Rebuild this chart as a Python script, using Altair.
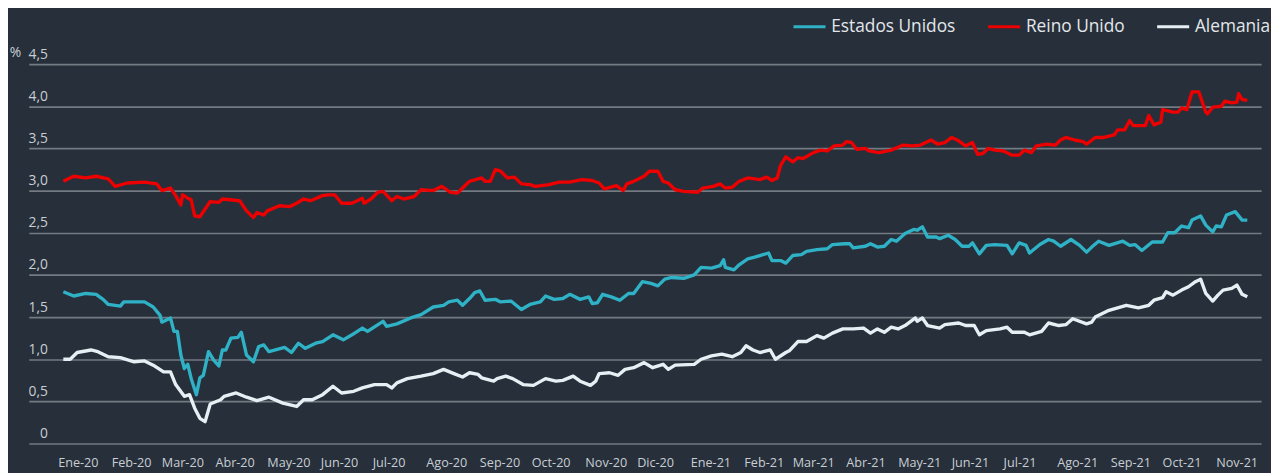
import altair as alt
import pandas as pd

# --- Reino Unido ---
fechas_ru = [
    "2020-01-02", "2020-01-08", "2020-01-15", "2020-01-21", "2020-01-28", "2020-02-01", "2020-02-08",
    "2020-02-18", "2020-02-25", "2020-02-28", "2020-03-04", "2020-03-07", "2020-03-10", "2020-03-11",
    "2020-03-14", "2020-03-16", "2020-03-18", "2020-03-21", "2020-03-27", "2020-04-01", "2020-04-03",
    "2020-04-13", "2020-04-17", "2020-04-21", "2020-04-23", "2020-04-27", "2020-04-29", "2020-05-06",
    "2020-05-12", "2020-05-16", "2020-05-20", "2020-05-24", "2020-05-31", "2020-06-03", "2020-06-07",
    "2020-06-11", "2020-06-17", "2020-06-23", "2020-06-24", "2020-06-28", "2020-07-02", "2020-07-05",
    "2020-07-10", "2020-07-13", "2020-07-17", "2020-07-23", "2020-07-27", "2020-08-03", "2020-08-08",
    "2020-08-13", "2020-08-17", "2020-08-20", "2020-08-24", "2020-08-31", "2020-09-02", "2020-09-05",
    "2020-09-08", "2020-09-11", "2020-09-15", "2020-09-19", "2020-09-23", "2020-09-28", "2020-10-01",
    "2020-10-09", "2020-10-15", "2020-10-21", "2020-10-28", "2020-11-03", "2020-11-07", "2020-11-10",
    "2020-11-17", "2020-11-21", "2020-11-23", "2020-11-27", "2020-12-03", "2020-12-06", "2020-12-11",
    "2020-12-14", "2020-12-17", "2020-12-21", "2020-12-26", "2021-01-03", "2021-01-06", "2021-01-12",
    "2021-01-16", "2021-01-19", "2021-01-23", "2021-01-27", "2021-02-01", "2021-02-08", "2021-02-12",
    "2021-02-15", "2021-02-18", "2021-02-20", "2021-02-23", "2021-02-27", "2021-03-02", "2021-03-05",
    "2021-03-11", "2021-03-15", "2021-03-19", "2021-03-23", "2021-03-28", "2021-03-30", "2021-04-02",
    "2021-04-05", "2021-04-10", "2021-04-12", "2021-04-18", "2021-04-25", "2021-05-02", "2021-05-07",
    "2021-05-12", "2021-05-18", "2021-05-22", "2021-05-26", "2021-05-30", "2021-06-03", "2021-06-07",
    "2021-06-11", "2021-06-14", "2021-06-17", "2021-06-20", "2021-06-24", "2021-06-29", "2021-07-04",
    "2021-07-08", "2021-07-11", "2021-07-15", "2021-07-18", "2021-07-24", "2021-07-29", "2021-08-01",
    "2021-08-04", "2021-08-09", "2021-08-14", "2021-08-16", "2021-08-21", "2021-08-26", "2021-09-01",
    "2021-09-03", "2021-09-07", "2021-09-10", "2021-09-12", "2021-09-19", "2021-09-21", "2021-09-24",
    "2021-09-28", "2021-09-29", "2021-10-05", "2021-10-08", "2021-10-10", "2021-10-13", "2021-10-16",
    "2021-10-20", "2021-10-24", "2021-10-25", "2021-10-28", "2021-11-02", "2021-11-04", "2021-11-08",
    "2021-11-11", "2021-11-12", "2021-11-14", "2021-11-17",
]
valores_ru = [
    3.11, 3.17, 3.15, 3.17, 3.14, 3.05, 3.09,
    3.10, 3.08, 3.00, 3.03, 2.94, 2.83, 2.95,
    2.91, 2.89, 2.70, 2.69, 2.87, 2.86, 2.90,
    2.88, 2.76, 2.68, 2.74, 2.71, 2.76, 2.82,
    2.81, 2.85, 2.90, 2.88, 2.94, 2.95, 2.95,
    2.85, 2.85, 2.91, 2.85, 2.90, 2.98, 2.99,
    2.88, 2.93, 2.90, 2.93, 3.01, 3.00, 3.05,
    2.98, 2.97, 3.03, 3.11, 3.15, 3.11, 3.11,
    3.25, 3.23, 3.15, 3.16, 3.08, 3.07, 3.05,
    3.07, 3.10, 3.10, 3.13, 3.12, 3.09, 3.02,
    3.06, 3.00, 3.08, 3.11, 3.17, 3.23, 3.23,
    3.11, 3.09, 3.01, 2.99, 2.98, 3.03, 3.05,
    3.08, 3.03, 3.04, 3.11, 3.15, 3.13, 3.16,
    3.12, 3.15, 3.30, 3.40, 3.34, 3.39, 3.38,
    3.45, 3.48, 3.47, 3.53, 3.54, 3.58, 3.57,
    3.49, 3.50, 3.47, 3.45, 3.48, 3.54, 3.53,
    3.54, 3.60, 3.55, 3.57, 3.63, 3.59, 3.53,
    3.57, 3.43, 3.44, 3.50, 3.48, 3.47, 3.42,
    3.42, 3.48, 3.45, 3.53, 3.55, 3.54, 3.60,
    3.63, 3.60, 3.58, 3.55, 3.63, 3.63, 3.66,
    3.72, 3.72, 3.83, 3.77, 3.77, 3.89, 3.78,
    3.81, 3.96, 3.93, 3.93, 3.98, 3.96, 4.17,
    4.17, 3.93, 3.91, 3.99, 4.00, 4.06, 4.04,
    4.05, 4.15, 4.08, 4.07,
]

# --- Estados Unidos ---
fechas_eeuu = [
    "2020-01-02", "2020-01-08", "2020-01-15", "2020-01-21", "2020-01-25", "2020-01-28", "2020-02-04",
    "2020-02-06", "2020-02-18", "2020-02-23", "2020-02-27", "2020-02-28", "2020-03-04", "2020-03-06",
    "2020-03-08", "2020-03-10", "2020-03-12", "2020-03-14", "2020-03-16", "2020-03-19", "2020-03-21",
    "2020-03-23", "2020-03-26", "2020-03-29", "2020-04-01", "2020-04-03", "2020-04-05", "2020-04-08",
    "2020-04-12", "2020-04-14", "2020-04-17", "2020-04-21", "2020-04-24", "2020-04-27", "2020-04-30",
    "2020-05-09", "2020-05-13", "2020-05-17", "2020-05-21", "2020-05-27", "2020-05-31", "2020-06-06",
    "2020-06-12", "2020-06-17", "2020-06-23", "2020-06-26", "2020-07-05", "2020-07-07", "2020-07-13",
    "2020-07-21", "2020-07-27", "2020-08-03", "2020-08-09", "2020-08-12", "2020-08-17", "2020-08-20",
    "2020-08-24", "2020-08-27", "2020-08-30", "2020-09-02", "2020-09-08", "2020-09-11", "2020-09-17",
    "2020-09-23", "2020-09-28", "2020-10-04", "2020-10-07", "2020-10-12", "2020-10-17", "2020-10-21",
    "2020-10-27", "2020-11-01", "2020-11-03", "2020-11-06", "2020-11-09", "2020-11-14", "2020-11-19",
    "2020-11-24", "2020-11-27", "2020-12-02", "2020-12-07", "2020-12-11", "2020-12-15", "2020-12-19",
    "2020-12-26", "2021-01-01", "2021-01-05", "2021-01-11", "2021-01-16", "2021-01-18", "2021-01-19",
    "2021-01-24", "2021-01-27", "2021-02-01", "2021-02-05", "2021-02-08", "2021-02-13", "2021-02-15",
    "2021-02-20", "2021-02-23", "2021-02-27", "2021-03-04", "2021-03-07", "2021-03-13", "2021-03-19",
    "2021-03-22", "2021-03-29", "2021-04-01", "2021-04-03", "2021-04-10", "2021-04-13", "2021-04-17",
    "2021-04-21", "2021-04-25", "2021-04-28", "2021-05-03", "2021-05-08", "2021-05-10", "2021-05-13",
    "2021-05-16", "2021-05-21", "2021-05-23", "2021-05-28", "2021-06-01", "2021-06-05", "2021-06-09",
    "2021-06-11", "2021-06-15", "2021-06-19", "2021-06-24", "2021-07-01", "2021-07-04", "2021-07-08",
    "2021-07-12", "2021-07-14", "2021-07-20", "2021-07-25", "2021-07-28", "2021-08-01", "2021-08-07",
    "2021-08-12", "2021-08-16", "2021-08-19", "2021-08-23", "2021-08-29", "2021-09-06", "2021-09-10",
    "2021-09-13", "2021-09-17", "2021-09-23", "2021-09-29", "2021-10-02", "2021-10-06", "2021-10-10",
    "2021-10-14", "2021-10-16", "2021-10-21", "2021-10-24", "2021-10-28", "2021-10-30", "2021-11-02",
    "2021-11-05", "2021-11-10", "2021-11-12", "2021-11-14", "2021-11-17",
]
valores_eeuu = [
    1.80, 1.75, 1.78, 1.77, 1.71, 1.65, 1.63,
    1.68, 1.68, 1.62, 1.52, 1.44, 1.49, 1.33,
    1.33, 1.05, 0.89, 0.94, 0.77, 0.58, 0.78,
    0.81, 1.09, 0.99, 0.92, 1.11, 1.11, 1.25,
    1.26, 1.32, 1.05, 0.97, 1.15, 1.17, 1.09,
    1.14, 1.08, 1.19, 1.13, 1.19, 1.21, 1.29,
    1.23, 1.29, 1.37, 1.33, 1.45, 1.39, 1.42,
    1.49, 1.53, 1.62, 1.64, 1.68, 1.70, 1.64,
    1.72, 1.79, 1.81, 1.70, 1.71, 1.68, 1.69,
    1.59, 1.65, 1.68, 1.75, 1.71, 1.72, 1.77,
    1.71, 1.74, 1.66, 1.67, 1.77, 1.74, 1.70,
    1.78, 1.78, 1.92, 1.90, 1.87, 1.95, 1.97,
    1.96, 2.00, 2.09, 2.08, 2.11, 2.18, 2.09,
    2.06, 2.12, 2.19, 2.21, 2.23, 2.26, 2.17,
    2.17, 2.14, 2.23, 2.24, 2.28, 2.30, 2.31,
    2.36, 2.37, 2.37, 2.32, 2.34, 2.37, 2.33,
    2.34, 2.42, 2.40, 2.49, 2.54, 2.53, 2.57,
    2.45, 2.45, 2.43, 2.47, 2.42, 2.34, 2.34,
    2.38, 2.25, 2.35, 2.36, 2.35, 2.25, 2.38,
    2.35, 2.26, 2.36, 2.42, 2.40, 2.34, 2.42,
    2.35, 2.27, 2.33, 2.40, 2.35, 2.40, 2.35,
    2.36, 2.29, 2.39, 2.39, 2.50, 2.50, 2.58,
    2.56, 2.65, 2.70, 2.59, 2.51, 2.58, 2.57,
    2.71, 2.75, 2.70, 2.65, 2.65,
]

# --- Alemania ---
fechas_de = [
    "2020-01-02", "2020-01-06", "2020-01-10", "2020-01-18", "2020-01-22", "2020-01-28", "2020-02-04",
    "2020-02-12", "2020-02-18", "2020-02-23", "2020-02-29", "2020-03-04", "2020-03-07", "2020-03-12",
    "2020-03-15", "2020-03-18", "2020-03-21", "2020-03-24", "2020-03-27", "2020-04-02", "2020-04-04",
    "2020-04-11", "2020-04-17", "2020-04-23", "2020-04-30", "2020-05-08", "2020-05-16", "2020-05-20",
    "2020-05-25", "2020-05-31", "2020-06-06", "2020-06-11", "2020-06-18", "2020-06-23", "2020-06-30",
    "2020-07-07", "2020-07-10", "2020-07-13", "2020-07-19", "2020-07-27", "2020-08-03", "2020-08-09",
    "2020-08-15", "2020-08-20", "2020-08-24", "2020-08-29", "2020-08-31", "2020-09-07", "2020-09-09",
    "2020-09-14", "2020-09-18", "2020-09-24", "2020-09-30", "2020-10-07", "2020-10-13", "2020-10-17",
    "2020-10-23", "2020-10-27", "2020-11-02", "2020-11-05", "2020-11-07", "2020-11-13", "2020-11-18",
    "2020-11-22", "2020-11-27", "2020-12-03", "2020-12-08", "2020-12-14", "2020-12-17", "2020-12-21",
    "2021-01-01", "2021-01-05", "2021-01-11", "2021-01-17", "2021-01-23", "2021-01-28", "2021-01-31",
    "2021-02-04", "2021-02-08", "2021-02-14", "2021-02-17", "2021-02-23", "2021-02-25", "2021-03-02",
    "2021-03-07", "2021-03-13", "2021-03-17", "2021-03-22", "2021-03-28", "2021-04-03", "2021-04-09",
    "2021-04-13", "2021-04-17", "2021-04-21", "2021-04-25", "2021-04-29", "2021-05-03", "2021-05-09",
    "2021-05-10", "2021-05-13", "2021-05-16", "2021-05-23", "2021-05-26", "2021-06-03", "2021-06-07",
    "2021-06-12", "2021-06-15", "2021-06-19", "2021-06-27", "2021-07-01", "2021-07-04", "2021-07-11",
    "2021-07-14", "2021-07-21", "2021-07-25", "2021-07-31", "2021-08-04", "2021-08-08", "2021-08-16",
    "2021-08-19", "2021-08-21", "2021-08-29", "2021-09-08", "2021-09-15", "2021-09-21", "2021-09-24",
    "2021-09-29", "2021-10-01", "2021-10-05", "2021-10-10", "2021-10-14", "2021-10-18", "2021-10-21",
    "2021-10-24", "2021-10-28", "2021-10-31", "2021-11-03", "2021-11-08", "2021-11-11", "2021-11-14",
    "2021-11-17",
]
valores_de = [
    1.00, 1.00, 1.08, 1.11, 1.09, 1.03, 1.02,
    0.97, 0.98, 0.93, 0.85, 0.85, 0.70, 0.56,
    0.58, 0.42, 0.30, 0.26, 0.47, 0.52, 0.56,
    0.60, 0.55, 0.51, 0.55, 0.48, 0.44, 0.52,
    0.52, 0.58, 0.68, 0.60, 0.62, 0.66, 0.70,
    0.70, 0.66, 0.72, 0.77, 0.80, 0.83, 0.88,
    0.83, 0.79, 0.84, 0.82, 0.78, 0.74, 0.77,
    0.80, 0.77, 0.70, 0.69, 0.77, 0.74, 0.75,
    0.80, 0.74, 0.69, 0.74, 0.83, 0.84, 0.81,
    0.88, 0.90, 0.96, 0.90, 0.94, 0.88, 0.93,
    0.94, 1.00, 1.04, 1.06, 1.03, 1.08, 1.16,
    1.11, 1.08, 1.11, 1.00, 1.08, 1.10, 1.21,
    1.21, 1.28, 1.25, 1.31, 1.36, 1.36, 1.37,
    1.31, 1.36, 1.32, 1.38, 1.36, 1.40, 1.49,
    1.45, 1.49, 1.40, 1.37, 1.41, 1.43, 1.40,
    1.40, 1.29, 1.34, 1.36, 1.38, 1.32, 1.32,
    1.29, 1.33, 1.43, 1.40, 1.41, 1.48, 1.42,
    1.44, 1.50, 1.58, 1.64, 1.61, 1.64, 1.70,
    1.73, 1.80, 1.76, 1.82, 1.86, 1.92, 1.95,
    1.78, 1.69, 1.76, 1.82, 1.84, 1.88, 1.77,
    1.74,
]

series = ["Estados Unidos", "Reino Unido", "Alemania"]
colores = ["#2fb1c6", "#ec0000", "#e6f0f4"]
meses = ["Ene", "Feb", "Mar", "Abr", "May", "Jun", "Jul", "Ago", "Sep", "Oct", "Nov", "Dic"]
ticks_y = [0, 0.5, 1.0, 1.5, 2.0, 2.5, 3.0, 3.5, 4.0, 4.5]

df = pd.concat([
    pd.DataFrame({"fecha": fechas_eeuu, "valor": valores_eeuu, "serie": series[0]}),
    pd.DataFrame({"fecha": fechas_ru, "valor": valores_ru, "serie": series[1]}),
    pd.DataFrame({"fecha": fechas_de, "valor": valores_de, "serie": series[2]}),
], ignore_index=True)

meses_js = "[" + ",".join("'" + m + "'" for m in meses) + "]"
FONT = "Open Sans"
BG = "#262f3a"

chart = alt.Chart(df).mark_line(strokeWidth=3.4, strokeJoin="round").encode(
    x=alt.X(
        "fecha:T",
        scale=alt.Scale(domain=["2019-12-13", "2021-11-25"]),
        axis=alt.Axis(
            title=None,
            tickCount={"interval": "month", "step": 1},
            labelExpr=meses_js + "[month(datum.value)] + '-' + timeFormat(datum.value, '%y')",
            labelAlign="left",
            labelOffset=-4,
            labelPadding=13,
            labelOverlap=False,
            labelBound=False,
            labelFlush=False,
            grid=False,
            domain=False,
            ticks=False,
            labelColor="#c9ced4",
            labelFontSize=12.8,
            labelFont=FONT,
        ),
    ),
    y=alt.Y(
        "valor:Q",
        scale=alt.Scale(domain=[0, 4.5], nice=False),
        axis=alt.Axis(
            title="%",
            titleAngle=0,
            titleX=-14,
            titleY=-5,
            titleAlign="center",
            titleBaseline="bottom",
            titleColor="#c9ced4",
            titleFontSize=14,
            titleFontWeight="normal",
            titleFont=FONT,
            values=ticks_y,
            labelExpr="datum.value == 0 ? '0' : replace(format(datum.value, '.1f'), '.', ',')",
            labelAlign="right",
            labelBaseline="bottom",
            labelPadding=-19,
            labelOffset=-3,
            labelColor="#c9ced4",
            labelFontSize=14,
            labelFont=FONT,
            grid=True,
            gridColor="#737a82",
            gridWidth=1.6,
            domain=False,
            ticks=False,
        ),
    ),
    color=alt.Color(
        "serie:N",
        scale=alt.Scale(domain=series, range=colores),
        sort=series,
        legend=alt.Legend(
            title=None,
            orient="none",
            direction="horizontal",
            legendX=772,
            legendY=-56,
            symbolType="stroke",
            symbolSize=1050,
            symbolStrokeWidth=3,
            labelFontSize=17.5,
            labelFont=FONT,
            labelColor="#e3e7eb",
            labelOffset=4,
            columnPadding=26,
        ),
    ),
).properties(
    width=1247,
    height=384,
    background=BG,
    padding={"left": 21, "top": 54, "right": 10, "bottom": 27},
    autosize=alt.AutoSizeParams(type="none"),
).configure_view(stroke=None)

chart.save("out.html", embed_options={"renderer": "svg", "actions": False})
